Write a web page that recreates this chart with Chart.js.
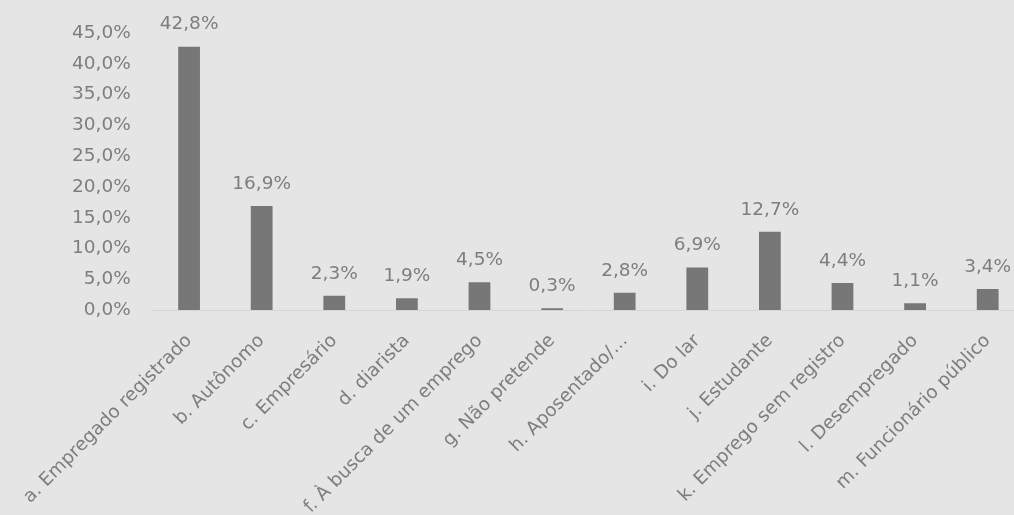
<!DOCTYPE html>
<html>
<head>
<meta charset="utf-8">
<script src="https://cdn.jsdelivr.net/npm/chart.js@4"></script>
<style>
html,body{margin:0;padding:0;background:#e5e5e5;overflow:hidden;}
#wrap{width:1024px;height:515px;position:relative;}
</style>
</head>
<body>
<div id="wrap"><canvas id="c"></canvas></div>
<script>
const categories = [
  "a. Empregado registrado",
  "b. Autônomo",
  "c. Empresário",
  "d. diarista",
  "f. À busca de um emprego",
  "g. Não pretende",
  "h. Aposentado/...",
  "i. Do lar",
  "j. Estudante",
  "k. Emprego sem registro",
  "l. Desempregado",
  "m. Funcionário público"
];
const values = [42.8, 16.9, 2.3, 1.9, 4.5, 0.3, 2.8, 6.9, 12.7, 4.4, 1.1, 3.4];
const yTicks = [0, 5, 10, 15, 20, 25, 30, 35, 40, 45];

const fmt = v => v.toFixed(1).replace('.', ',') + '%';
const FONT = "'DejaVu Sans', 'Open Sans', sans-serif";
const FS = 18.5;
const TXT = '#7e7e7e';

const valueLabels = {
  id: 'valueLabels',
  afterDatasetsDraw(chart) {
    const ctx = chart.ctx;
    const meta = chart.getDatasetMeta(0);
    ctx.save();
    ctx.font = FS + "px " + FONT;
    ctx.fillStyle = TXT;
    ctx.textAlign = 'center';
    ctx.textBaseline = 'middle';
    meta.data.forEach((bar, i) => {
      ctx.fillText(fmt(values[i]), bar.x, bar.y - 22);
    });
    ctx.restore();
  }
};

new Chart(document.getElementById('c'), {
  type: 'bar',
  data: {
    labels: categories,
    datasets: [{
      data: values,
      backgroundColor: '#777777',
      borderWidth: 0,
      categoryPercentage: 1,
      barPercentage: 0.3
    }]
  },
  options: {
    responsive: true,
    maintainAspectRatio: false,
    animation: false,
    layout: { padding: { top: 28, left: 50, right: 0, bottom: 0 } },
    plugins: { legend: { display: false }, tooltip: { enabled: false } },
    scales: {
      x: {
        grid: { display: false, drawTicks: false },
        border: { display: true, color: '#d4d4d4' },
        ticks: {
          color: TXT,
          font: { family: FONT, size: FS },
          minRotation: 45, maxRotation: 45,
          autoSkip: false,
          padding: 20
        },
        afterFit(scale) { scale.height = 205; scale.paddingLeft = 0; scale.paddingRight = 0; }
      },
      y: {
        min: 0, max: 45,
        afterBuildTicks(scale) { scale.ticks = yTicks.map(v => ({ value: v })); },
        grid: { display: false, drawTicks: false },
        border: { display: false },
        ticks: {
          color: TXT,
          font: { family: FONT, size: FS },
          padding: 22,
          callback: v => fmt(v)
        }
      }
    }
  },
  plugins: [valueLabels]
});
</script>
</body>
</html>
